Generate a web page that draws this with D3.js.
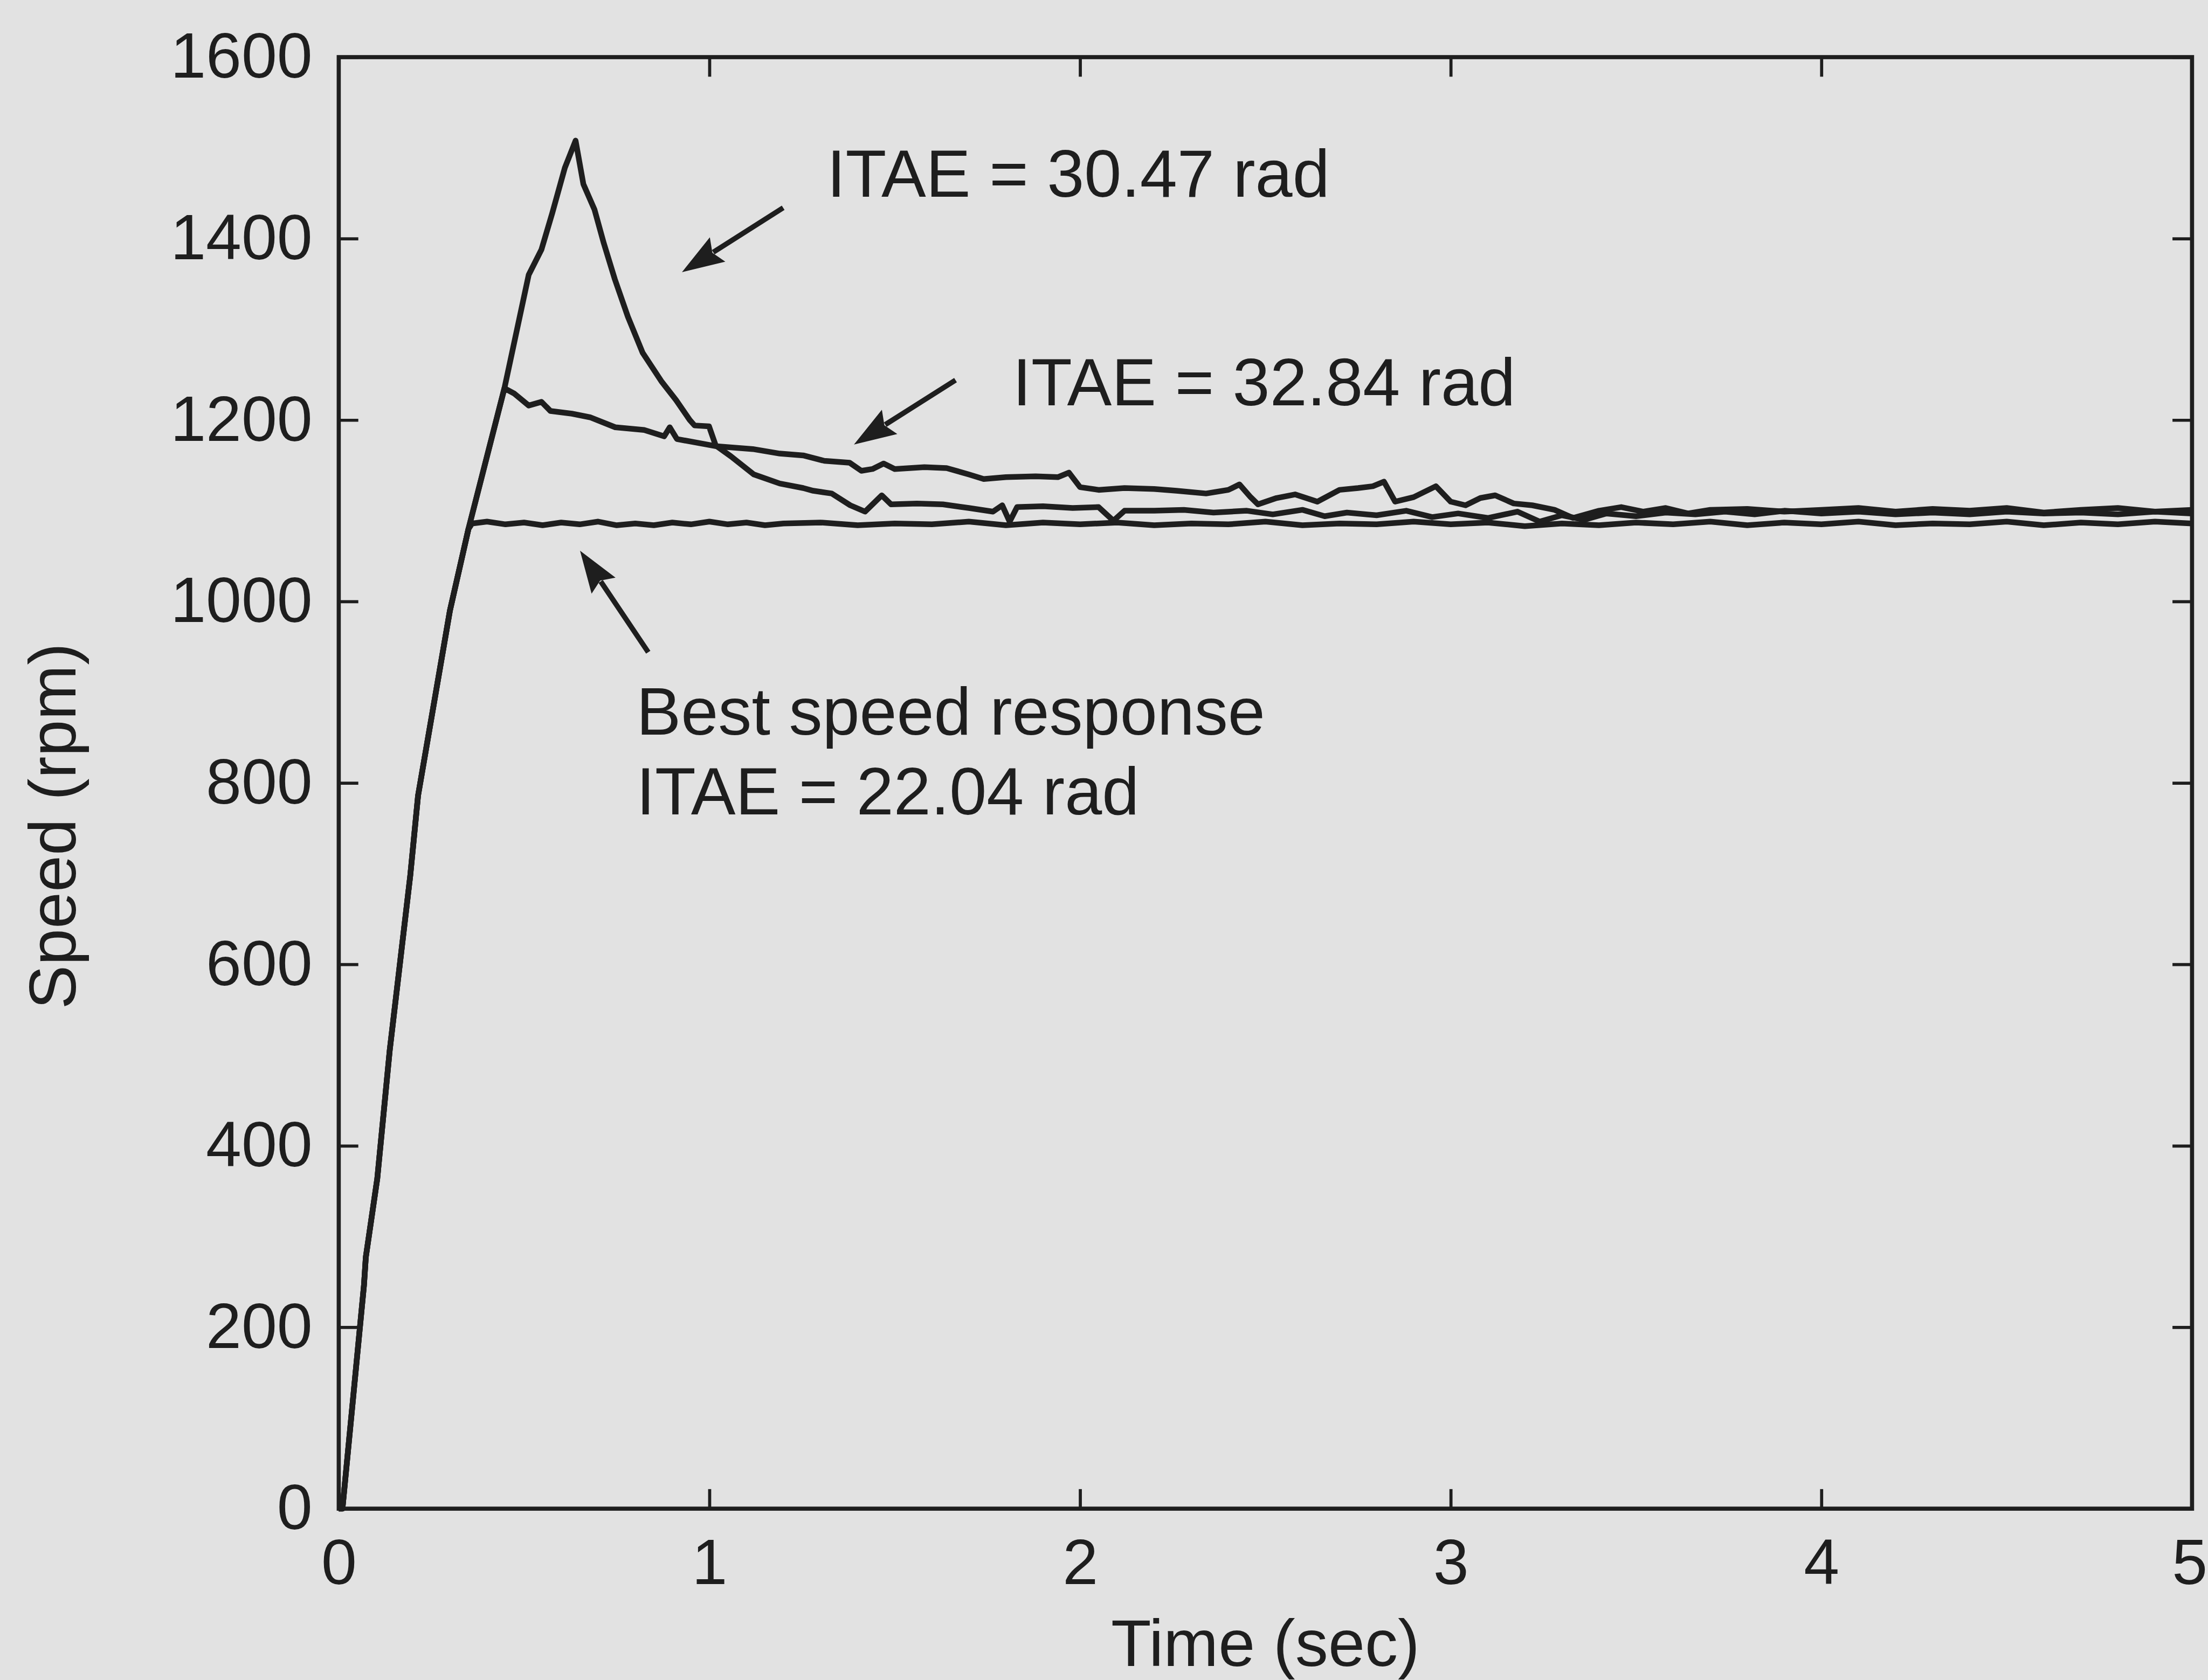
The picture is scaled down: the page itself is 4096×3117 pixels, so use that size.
<!DOCTYPE html>
<html>
<head>
<meta charset="utf-8">
<script src="https://cdn.jsdelivr.net/npm/d3@7"></script>
<style>
  html, body { margin: 0; padding: 0; background: #e2e2e2; }
  svg { display: block; }
  text { font-family: "Liberation Sans", Arial, Helvetica, sans-serif; fill: #1e1e1e; }
</style>
</head>
<body>
<div id="chart"></div>
<script>
// axis ticks
const timeTicks = [0, 1, 2, 3, 4, 5];
const timeLabels = ['0', '1', '2', '3', '4', '5'];
const speedTicks = [0, 200, 400, 600, 800, 1000, 1200, 1400, 1600];
const speedLabels = ['0', '200', '400', '600', '800', '1000', '1200', '1400', '1600'];

// [time (s), speed (rpm)]
const startRamp = [[0, 0], [0.01, 0], [0.068, 246], [0.073, 277], [0.104, 364], [0.1375, 505],
  [0.193, 698], [0.214, 786], [0.30, 990], [0.35, 1080]];

const bestTail = [[0.36, 1086], [0.40, 1088], [0.45, 1085], [0.50, 1087], [0.55, 1084], [0.60, 1087],
  [0.65, 1085], [0.70, 1088], [0.75, 1084], [0.80, 1086], [0.85, 1084], [0.90, 1087], [0.95, 1085],
  [1.00, 1088], [1.05, 1085], [1.10, 1087], [1.15, 1084], [1.20, 1086], [1.30, 1087], [1.40, 1084],
  [1.50, 1086], [1.60, 1085], [1.70, 1088], [1.80, 1084], [1.90, 1087], [2.00, 1085], [2.10, 1087],
  [2.20, 1084], [2.30, 1086], [2.40, 1085], [2.50, 1088], [2.60, 1084], [2.70, 1086], [2.80, 1085],
  [2.90, 1088], [3.00, 1085], [3.10, 1087], [3.20, 1083], [3.30, 1086], [3.40, 1084], [3.50, 1087],
  [3.60, 1085], [3.70, 1088], [3.80, 1084], [3.90, 1087], [4.00, 1085], [4.10, 1088], [4.20, 1084],
  [4.30, 1086], [4.40, 1085], [4.50, 1088], [4.60, 1084], [4.70, 1087], [4.80, 1085], [4.90, 1088],
  [5.00, 1086]];

const itae3284Tail = [[0.40, 1160], [0.447, 1235], [0.474, 1229], [0.5125, 1216], [0.547, 1220],
  [0.571, 1210], [0.629, 1207], [0.678, 1203], [0.746, 1192], [0.824, 1189], [0.878, 1182],
  [0.893, 1192], [0.9125, 1179], [1.02, 1171], [1.117, 1168], [1.19, 1163], [1.253, 1161],
  [1.31, 1155], [1.378, 1153], [1.41, 1144], [1.44, 1146], [1.47, 1152], [1.50, 1146], [1.58, 1148],
  [1.64, 1147], [1.70, 1140], [1.74, 1135], [1.80, 1137], [1.88, 1138], [1.94, 1137], [1.97, 1142],
  [2.00, 1126], [2.05, 1123], [2.12, 1125], [2.20, 1124], [2.26, 1122], [2.34, 1119], [2.40, 1123],
  [2.43, 1129], [2.46, 1115], [2.48, 1107], [2.53, 1114], [2.58, 1118], [2.64, 1110], [2.70, 1123],
  [2.75, 1125], [2.79, 1127], [2.82, 1132], [2.85, 1110], [2.90, 1115], [2.96, 1127], [3.00, 1110],
  [3.04, 1106], [3.08, 1114], [3.12, 1117], [3.17, 1108], [3.22, 1106], [3.28, 1101], [3.33, 1092],
  [3.40, 1100], [3.46, 1104], [3.52, 1099], [3.58, 1103], [3.64, 1097], [3.70, 1101], [3.80, 1102],
  [3.90, 1099], [4.00, 1101], [4.10, 1103], [4.20, 1099], [4.30, 1102], [4.40, 1100], [4.50, 1103],
  [4.60, 1098], [4.70, 1101], [4.80, 1103], [4.90, 1099], [5.00, 1101]];

const itae3047Tail = [[0.40, 1160], [0.447, 1235], [0.5125, 1360], [0.547, 1388], [0.576, 1428],
  [0.61, 1478], [0.639, 1508], [0.66, 1460], [0.69, 1432], [0.715, 1395], [0.745, 1355], [0.78, 1314],
  [0.82, 1274], [0.87, 1243], [0.91, 1222], [0.947, 1200], [0.96, 1194], [0.999, 1193], [1.017, 1172],
  [1.058, 1160], [1.12, 1140], [1.19, 1130], [1.253, 1125], [1.28, 1122], [1.33, 1119], [1.38, 1106],
  [1.42, 1099], [1.465, 1117], [1.49, 1107], [1.56, 1108], [1.63, 1107], [1.70, 1103], [1.765, 1099],
  [1.79, 1106], [1.81, 1088], [1.83, 1104], [1.90, 1105], [1.98, 1103], [2.05, 1104], [2.09, 1089],
  [2.12, 1100], [2.20, 1100], [2.28, 1101], [2.36, 1098], [2.45, 1100], [2.52, 1096], [2.60, 1101],
  [2.66, 1094], [2.72, 1098], [2.80, 1095], [2.88, 1100], [2.95, 1093], [3.02, 1097], [3.10, 1092],
  [3.18, 1099], [3.24, 1088], [3.30, 1095], [3.36, 1090], [3.42, 1097], [3.50, 1094], [3.58, 1098],
  [3.66, 1096], [3.74, 1099], [3.82, 1096], [3.90, 1100], [4.00, 1097], [4.10, 1099], [4.20, 1096],
  [4.30, 1098], [4.40, 1096], [4.50, 1099], [4.60, 1097], [4.70, 1098], [4.80, 1096], [4.90, 1099],
  [5.00, 1097]];

const series = [
  startRamp.concat(bestTail),
  startRamp.concat(itae3284Tail),
  startRamp.concat(itae3047Tail)
];

// annotations: [time, speed] of the text start / arrow tail and tip
const noteTexts = ['ITAE = 30.47 rad', 'ITAE = 32.84 rad', 'Best speed response', 'ITAE = 22.04 rad'];
const notePos = [[1.317, 1446], [1.818, 1216], [0.803, 853], [0.803, 765]];
const arrowFrom = [[1.199, 1434], [1.664, 1244], [0.835, 944]];
const arrowTo = [[0.926, 1363], [1.390, 1173], [0.651, 1056]];

const S = 0.955;
const ink = '#1e1e1e';

const svg = d3.select('#chart').append('svg')
  .attr('width', 4096)
  .attr('height', 3117);
svg.append('rect').attr('width', 4096).attr('height', 3117).attr('fill', '#e2e2e2');

// everything is laid out in the reference's pixel space, then scaled down
const g = svg.append('g').attr('transform', `scale(${S})`);

const x = d3.scaleLinear().domain([0, 5]).range([658, 4258]);
const y = d3.scaleLinear().domain([0, 1600]).range([2931, 111]);

function styleAxis(sel) {
  sel.attr('font-size', 124);
  sel.select('.domain').remove();
  sel.selectAll('line').attr('stroke', ink).attr('stroke-width', 6);
  sel.selectAll('text').attr('fill', ink);
}

g.append('g')
  .attr('transform', `translate(0,${y(0)})`)
  .call(d3.axisBottom(x).tickValues(timeTicks).tickFormat((d, i) => timeLabels[i])
    .tickSizeInner(-38).tickSizeOuter(0).tickPadding(58))
  .call(styleAxis)
  // the last label sits right on the page edge: nudge it in a little
  .selectAll('text').filter(d => d === 5).attr('x', -5);

g.append('g')
  .attr('transform', `translate(0,${y(1600)})`)
  .call(d3.axisTop(x).tickValues(timeTicks).tickFormat('').tickSizeInner(-38).tickSizeOuter(0))
  .call(styleAxis);

g.append('g')
  .attr('transform', `translate(${x(0)},0)`)
  .call(d3.axisLeft(y).tickValues(speedTicks).tickFormat((d, i) => speedLabels[i])
    .tickSizeInner(-38).tickSizeOuter(0).tickPadding(51))
  .call(styleAxis);

g.append('g')
  .attr('transform', `translate(${x(5)},0)`)
  .call(d3.axisRight(y).tickValues(speedTicks).tickFormat('').tickSizeInner(-38).tickSizeOuter(0))
  .call(styleAxis);

// speed responses
const line = d3.line().x(d => x(d[0])).y(d => y(d[1]));
g.selectAll('.resp')
  .data(series)
  .enter().append('path')
  .attr('class', 'resp')
  .attr('d', line)
  .attr('fill', 'none')
  .attr('stroke', ink)
  .attr('stroke-width', 11)
  .attr('stroke-linejoin', 'round');

// plot box
g.append('rect')
  .attr('x', x(0)).attr('y', y(1600))
  .attr('width', x(5) - x(0)).attr('height', y(0) - y(1600))
  .attr('fill', 'none').attr('stroke', ink).attr('stroke-width', 8);

// axis titles
g.append('text')
  .attr('x', (x(0) + x(5)) / 2).attr('y', 3237)
  .attr('text-anchor', 'middle').attr('font-size', 128)
  .text('Time (sec)');

g.append('text')
  .attr('transform', 'translate(147,1605) rotate(-90)')
  .attr('text-anchor', 'middle').attr('font-size', 128)
  .text('Speed (rpm)');

// annotations
g.selectAll('.note')
  .data(noteTexts)
  .enter().append('text')
  .attr('class', 'note')
  .attr('x', (d, i) => x(notePos[i][0]))
  .attr('y', (d, i) => y(notePos[i][1]))
  .attr('font-size', 130)
  .text(d => d);

arrowFrom.forEach((from, i) => {
  const x1 = x(from[0]), y1 = y(from[1]);
  const x2 = x(arrowTo[i][0]), y2 = y(arrowTo[i][1]);
  const len = Math.hypot(x2 - x1, y2 - y1);
  const ux = (x2 - x1) / len, uy = (y2 - y1) / len;
  const hl = 82, hw = 28;
  const bx = x2 - ux * hl, by = y2 - uy * hl;
  g.append('line')
    .attr('x1', x1).attr('y1', y1)
    .attr('x2', bx + ux * 10).attr('y2', by + uy * 10)
    .attr('stroke', ink).attr('stroke-width', 10);
  g.append('path')
    .attr('d', `M${x2},${y2}L${bx - uy * hw},${by + ux * hw}L${bx + ux * 12},${by + uy * 12}L${bx + uy * hw},${by - ux * hw}Z`)
    .attr('fill', ink);
});
</script>
</body>
</html>
